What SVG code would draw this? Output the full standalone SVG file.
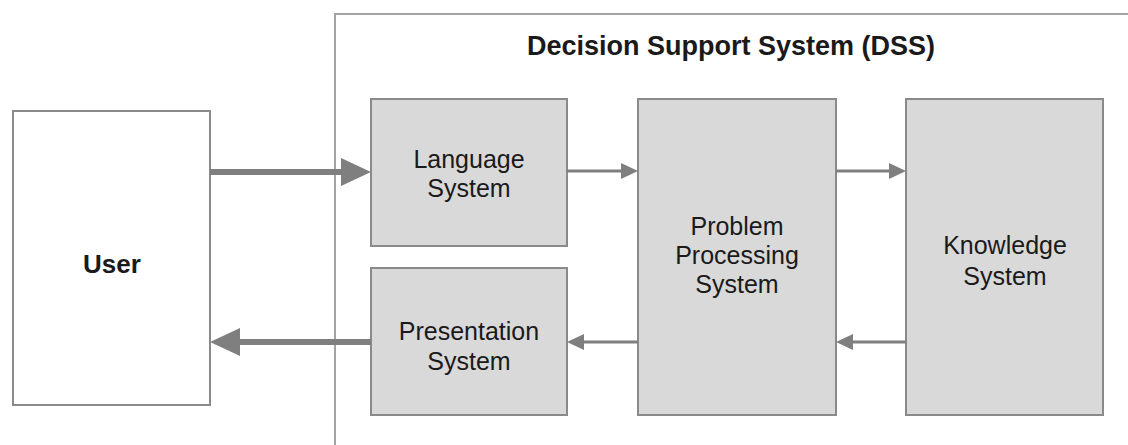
<svg xmlns="http://www.w3.org/2000/svg" width="1128" height="445" viewBox="0 0 1128 445">
<style>
.box{fill:#d9d9d9;stroke:#8a8a8a;stroke-width:2}
.ubox{fill:#ffffff;stroke:#8a8a8a;stroke-width:2}
.frame{fill:#ffffff;stroke:#a3a3a3;stroke-width:2}
.t{font-family:"Liberation Sans",Arial,sans-serif;font-size:25px;fill:#1a1a1a;text-anchor:middle}
.b{font-weight:bold}
.thick{stroke:#7f7f7f;stroke-width:6;fill:none}
.thin{stroke:#7f7f7f;stroke-width:3;fill:none}
</style>
<defs>
<marker id="big" markerUnits="userSpaceOnUse" markerWidth="30" markerHeight="28" refX="2" refY="14" orient="auto">
<path d="M0,0 L30,14 L0,28 z" fill="#7f7f7f"/>
</marker>
<marker id="small" markerUnits="userSpaceOnUse" markerWidth="17" markerHeight="16" refX="2" refY="8" orient="auto">
<path d="M0,0 L17,8 L0,16 z" fill="#7f7f7f"/>
</marker>
</defs>
<rect width="1128" height="445" fill="#ffffff"/>
<g id="dss">
<rect class="frame" x="335" y="14" width="900" height="500"/>
<text class="t b" x="731" y="55" style="font-size:27px">Decision Support System (DSS)</text>
</g>
<g id="user">
<rect class="ubox" x="13" y="111" width="197" height="294"/>
<text class="t b" x="112" y="273" style="font-size:26px">User</text>
</g>
<g id="language">
<rect class="box" x="371" y="99" width="196" height="147"/>
<text class="t" x="469" y="168">Language</text>
<text class="t" x="469" y="197">System</text>
</g>
<g id="presentation">
<rect class="box" x="371" y="268" width="196" height="147"/>
<text class="t" x="469" y="340">Presentation</text>
<text class="t" x="469" y="370">System</text>
</g>
<g id="problem">
<rect class="box" x="638" y="99" width="198" height="316"/>
<text class="t" x="737" y="235">Problem</text>
<text class="t" x="737" y="264">Processing</text>
<text class="t" x="737" y="293">System</text>
</g>
<g id="knowledge">
<rect class="box" x="906" y="99" width="197" height="316"/>
<text class="t" x="1005" y="254">Knowledge</text>
<text class="t" x="1005" y="285">System</text>
</g>
<g id="connectors">
<path class="thick" d="M210,172 H343" marker-end="url(#big)"/>
<path class="thick" d="M371,342 H238" marker-end="url(#big)"/>
<path class="thin" d="M567,171 H623" marker-end="url(#small)"/>
<path class="thin" d="M836,171 H891" marker-end="url(#small)"/>
<path class="thin" d="M906,342 H851" marker-end="url(#small)"/>
<path class="thin" d="M638,342 H582" marker-end="url(#small)"/>
</g>
</svg>
